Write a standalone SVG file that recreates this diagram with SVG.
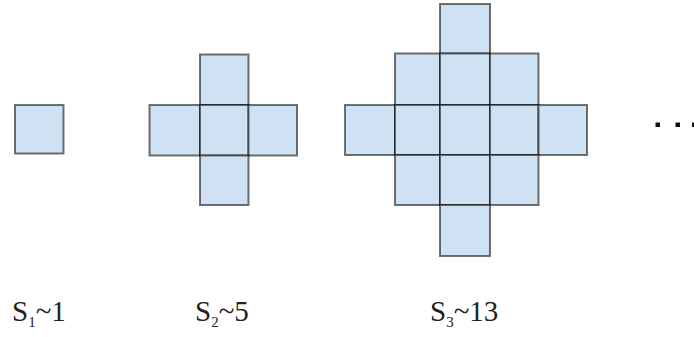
<svg xmlns="http://www.w3.org/2000/svg" width="694" height="337" viewBox="0 0 694 337">
<style>
.c{fill:#cfe2f3;stroke:#000;stroke-opacity:0.55;stroke-width:2}
.d{fill:#111}
.l{font-family:'Liberation Serif',serif;font-size:29px;fill:#222}
</style>
<rect width="694" height="337" fill="#fff"/>
<g id="s1">
<rect class="c" x="15" y="105" width="48.5" height="48.5"/>
</g>
<g id="s2">
<rect class="c" x="200" y="54.5" width="48.5" height="50.5"/>
<rect class="c" x="149.5" y="105" width="50.5" height="50.5"/>
<rect class="c" x="200" y="105" width="48.5" height="50.5"/>
<rect class="c" x="248.5" y="105" width="48.5" height="50.5"/>
<rect class="c" x="200" y="155.5" width="48.5" height="49.5"/>
</g>
<g id="s3">
<rect class="c" x="440" y="4" width="50" height="49.5"/>
<rect class="c" x="395" y="53.5" width="45" height="51.5"/>
<rect class="c" x="440" y="53.5" width="50" height="51.5"/>
<rect class="c" x="490" y="53.5" width="48.5" height="51.5"/>
<rect class="c" x="345" y="105" width="50" height="50"/>
<rect class="c" x="395" y="105" width="45" height="50"/>
<rect class="c" x="440" y="105" width="50" height="50"/>
<rect class="c" x="490" y="105" width="48.5" height="50"/>
<rect class="c" x="538.5" y="105" width="48.5" height="50"/>
<rect class="c" x="395" y="155" width="45" height="50"/>
<rect class="c" x="440" y="155" width="50" height="50"/>
<rect class="c" x="490" y="155" width="48.5" height="50"/>
<rect class="c" x="440" y="205" width="50" height="51"/>
</g>
<g id="dots">
<rect class="d" x="655.5" y="122.5" width="4.5" height="4.5"/>
<rect class="d" x="675.5" y="122.5" width="4.5" height="4.5"/>
<rect class="d" x="692" y="122.5" width="4.5" height="4.5"/>
</g>
<g id="labels">
<text class="l" x="12" y="321">S<tspan font-size="15" dy="6">1</tspan><tspan dy="-6">~1</tspan></text>
<text class="l" x="195" y="321">S<tspan font-size="15" dy="6">2</tspan><tspan dy="-6">~5</tspan></text>
<text class="l" x="430" y="321">S<tspan font-size="15" dy="6">3</tspan><tspan dy="-6">~13</tspan></text>
</g>
</svg>
